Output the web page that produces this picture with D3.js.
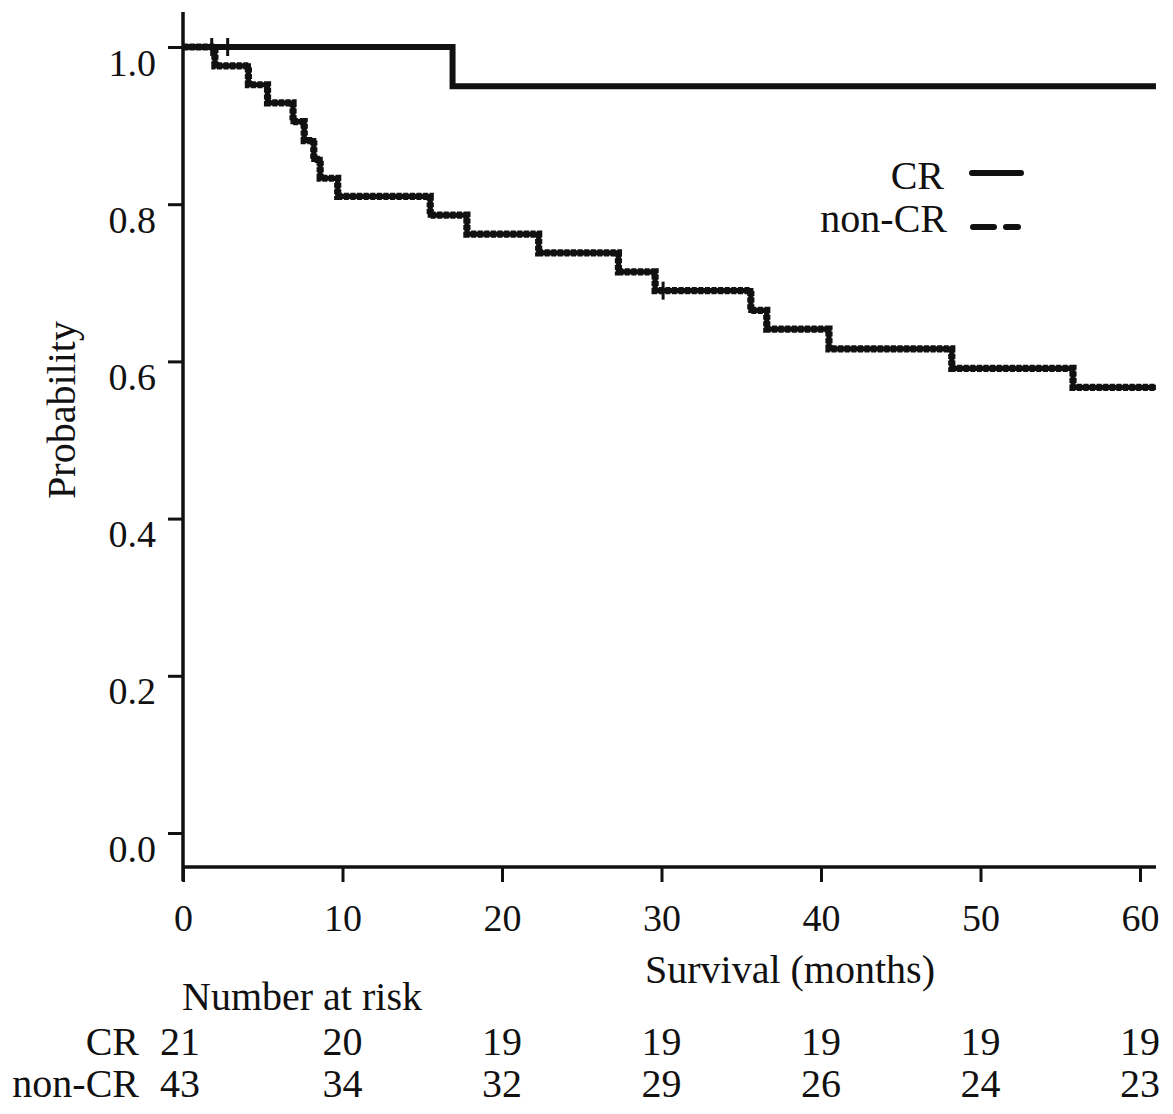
<!DOCTYPE html>
<html>
<head>
<meta charset="utf-8">
<script src="https://cdn.jsdelivr.net/npm/d3@7"></script>
<style>
  html, body { margin: 0; padding: 0; background: #fff; }
  svg { display: block; }
  text { font-family: "Liberation Serif", "Times New Roman", serif; fill: #111; }
</style>
</head>
<body>
<svg id="chart" width="1173" height="1114"></svg>
<script>
// ---- data ----
const xTicks = [0, 10, 20, 30, 40, 50, 60];
const yTicks = [0.0, 0.2, 0.4, 0.6, 0.8, 1.0];
const crStepTime = [0, 16.9];
const crStepProb = [1.0, 0.95];
const nonCrStepTime = [0, 2.0, 4.1, 5.3, 6.9, 7.6, 8.2, 8.6, 9.7, 15.5, 17.8, 22.3, 27.3, 29.6, 35.6, 36.6, 40.5, 48.2, 55.8];
const nonCrStepProb = [1.0, 0.976, 0.952, 0.929, 0.905, 0.881, 0.857, 0.833, 0.810, 0.786, 0.762, 0.738, 0.714, 0.690, 0.665, 0.641, 0.616, 0.591, 0.567];
const crCensorTime = [2.8];
const crCensorProb = [1.0];
const nonCrCensorTime = [1.8, 30.1];
const nonCrCensorProb = [1.0, 0.690];
const followUpEnd = 61;
const groups = ["CR", "non-CR"];
const riskCR = [21, 20, 19, 19, 19, 19, 19];
const riskNonCR = [43, 34, 32, 29, 26, 24, 23];

// ---- layout ----
const svg = d3.select("#chart");
const x = d3.scaleLinear().domain([0, 60]).range([183, 1140]);
const y = d3.scaleLinear().domain([0, 1]).range([833, 47]);
const axisY = 867;
const ink = "#111";

// y axis
const yAxis = d3.axisLeft(y).tickValues(yTicks).tickFormat(d3.format(".1f")).tickSize(15).tickPadding(12);
const gy = svg.append("g").attr("transform", `translate(${x(0)},0)`).call(yAxis);
gy.select(".domain").remove();
gy.selectAll(".tick line").attr("stroke", ink).attr("stroke-width", 3);
gy.selectAll(".tick text").attr("font-size", 38).attr("dy", "0.74em").attr("fill", ink)
  .style("font-family", "Liberation Serif");
svg.append("line").attr("x1", x(0)).attr("x2", x(0)).attr("y1", 12).attr("y2", 881)
  .attr("stroke", ink).attr("stroke-width", 3.5);

// x axis
const xAxis = d3.axisBottom(x).tickValues(xTicks).tickFormat(d3.format("d")).tickSize(15).tickPadding(22);
const gx = svg.append("g").attr("transform", `translate(0,${axisY})`).call(xAxis);
gx.select(".domain").remove();
gx.selectAll(".tick line").attr("stroke", ink).attr("stroke-width", 3);
gx.selectAll(".tick text").attr("font-size", 38).attr("fill", ink)
  .style("font-family", "Liberation Serif");
svg.append("line").attr("x1", x(0)).attr("x2", x(followUpEnd)).attr("y1", axisY).attr("y2", axisY)
  .attr("stroke", ink).attr("stroke-width", 3.5);

// axis titles
svg.append("text").attr("x", 645).attr("y", 983).attr("font-size", 40).text("Survival (months)");
svg.append("text").attr("transform", "translate(75,410) rotate(-90)").attr("text-anchor", "middle")
  .attr("font-size", 40).text("Probability");

// curves
const line = d3.line().x(d => x(d[0])).y(d => y(d[1])).curve(d3.curveStepAfter);
const crPts = crStepTime.map((t, i) => [t, crStepProb[i]]);
crPts.push([followUpEnd, crStepProb[crStepProb.length - 1]]);
const ncPts = nonCrStepTime.map((t, i) => [t, nonCrStepProb[i]]);
ncPts.push([followUpEnd, nonCrStepProb[nonCrStepProb.length - 1]]);

// non-CR: beaded dashed look
svg.append("path").datum(ncPts).attr("d", line).attr("fill", "none")
  .attr("stroke", ink).attr("stroke-width", 5.2);
svg.append("path").datum(ncPts).attr("d", line).attr("fill", "none")
  .attr("stroke", ink).attr("stroke-width", 7.2).attr("stroke-dasharray", "5,1.6");

// CR solid
svg.append("path").datum(crPts).attr("d", line).attr("fill", "none")
  .attr("stroke", ink).attr("stroke-width", 6).attr("stroke-linejoin", "miter");

// censor marks
const censors = crCensorTime.map((t, i) => [t, crCensorProb[i]])
  .concat(nonCrCensorTime.map((t, i) => [t, nonCrCensorProb[i]]));
svg.selectAll("line.censor").data(censors).join("line").attr("class", "censor")
  .attr("x1", d => x(d[0])).attr("x2", d => x(d[0]))
  .attr("y1", d => y(d[1]) - 9).attr("y2", d => y(d[1]) + 9)
  .attr("stroke", ink).attr("stroke-width", 3);

// legend
const legend = svg.append("g");
legend.append("text").attr("x", 944).attr("y", 189).attr("text-anchor", "end").attr("font-size", 40).text(groups[0]);
legend.append("text").attr("x", 947).attr("y", 232).attr("text-anchor", "end").attr("font-size", 40).text(groups[1]);
legend.append("line").attr("x1", 972).attr("x2", 1021).attr("y1", 173).attr("y2", 173)
  .attr("stroke", ink).attr("stroke-width", 6).attr("stroke-linecap", "round");
legend.append("line").attr("x1", 973).attr("x2", 1018).attr("y1", 227).attr("y2", 227)
  .attr("stroke", ink).attr("stroke-width", 6).attr("stroke-linecap", "round")
  .attr("stroke-dasharray", "21,12");

// number at risk table
svg.append("text").attr("x", 182).attr("y", 1010).attr("font-size", 40).text("Number at risk");
const rows = [riskCR, riskNonCR];
const rowY = [1055, 1097];
rows.forEach((vals, r) => {
  svg.append("text").attr("x", 139).attr("y", rowY[r]).attr("text-anchor", "end")
    .attr("font-size", 40).text(groups[r]);
  svg.selectAll(null).data(vals).join("text")
    .attr("x", (d, i) => x(xTicks[i]) + (i === 0 ? -3 : 0))
    .attr("y", rowY[r]).attr("text-anchor", "middle").attr("font-size", 40)
    .text(d => d);
});
</script>
</body>
</html>
